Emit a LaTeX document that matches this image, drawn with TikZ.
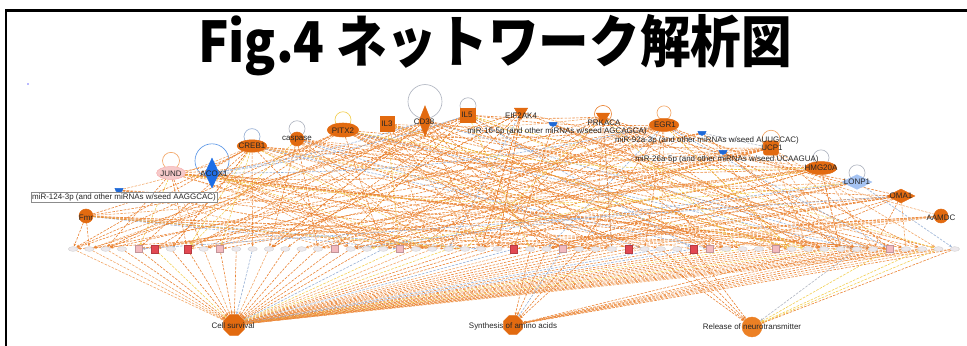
\documentclass[tikz,border=0pt]{standalone}
\usepackage{fontspec}
\setmainfont{Liberation Sans}
\newfontfamily\cjk{Noto Sans CJK JP}
\usetikzlibrary{shapes.geometric,arrows.meta}
\pgfdeclarelayer{bg}
\pgfsetlayers{bg,main}
\definecolor{nodeor}{RGB}{226,106,16}
\definecolor{relor}{RGB}{236,128,36}
\definecolor{eor}{RGB}{234,130,50}
\definecolor{eor2}{RGB}{242,165,100}
\definecolor{eblue}{RGB}{150,175,212}
\definecolor{eyel}{RGB}{242,206,80}
\definecolor{mirblue}{RGB}{30,105,215}
\definecolor{acoxblue}{RGB}{30,110,230}
\definecolor{loopblue}{RGB}{90,150,230}
\definecolor{loopgray}{RGB}{175,180,192}
\definecolor{lonpblue}{RGB}{165,195,242}
\definecolor{jundpink}{RGB}{246,202,202}
\definecolor{rowgray}{RGB}{236,232,236}
\definecolor{rowpink}{RGB}{242,185,190}
\definecolor{rowred}{RGB}{226,72,82}
\newcommand\selfloop[4]{\draw[#4,line width=0.55pt] ([yshift=#3*0.85pt]#1.north) circle[radius=#2];}
\begin{document}
\begin{tikzpicture}[x=0.03cm,y=-0.03cm,
  lbl/.style={font=\fontsize{6.8}{7}\selectfont, text=black!85, inner sep=0.5pt},
  ov/.style 2 args={ellipse, minimum width=#1, minimum height=#2, inner sep=0pt},
  dm/.style 2 args={diamond, minimum width=#1, minimum height=#2, inner sep=0pt},
  sq/.style 2 args={rectangle, minimum width=#1, minimum height=#2, inner sep=0pt},
  tri/.style={regular polygon, regular polygon sides=3, shape border rotate=180, minimum size=#1, inner sep=0pt},
  oct/.style={regular polygon, regular polygon sides=8, minimum size=#1, inner sep=0pt},
  disc/.style={circle, minimum size=#1, inner sep=0pt},
  orn/.style={fill=nodeor, draw=nodeor},
  mirn/.style={semicircle, shape border rotate=180, fill=mirblue, draw=mirblue, minimum width=7pt, minimum height=3.5pt, inner sep=0pt},
  rownode/.style={ellipse, minimum width=8pt, minimum height=4pt, inner sep=0pt, fill=rowgray, draw=black!20, line width=0.3pt},
  rowpinkn/.style={rectangle, minimum width=6pt, minimum height=6pt, inner sep=0pt, fill=rowpink, draw=rowpink!80!black, line width=0.3pt},
  rowredn/.style={rectangle, minimum width=6pt, minimum height=7pt, inner sep=0pt, fill=rowred, draw=rowred!80!black, line width=0.3pt},
  lnk/.style={dash pattern=on 2.2pt off 1.1pt, line width=0.5pt, -{Stealth[length=2.6pt,width=2pt]}},
  lnk2/.style={dash pattern=on 2.2pt off 1.1pt, line width=0.5pt},
]
\useasboundingbox (0,0) rectangle (967,346);
% frame
\draw[line width=2pt] (6,346) -- (6,10.5) -- (967,10.5);
% title
\node[font=\cjk\bfseries\fontsize{48}{48}\selectfont, inner sep=0pt, xscale=0.9] (title) at (495,45) {Fig.4 ネットワーク解析図};
\node[disc=1.6pt, fill=blue!55] (speck) at (28,84) {};

% ---- top nodes ----
\node[ov={24.6pt}{11pt}, fill=jundpink, draw=jundpink!85!red] (jund) at (171,173) {};
\node[dm={12pt}{25.5pt}, fill=acoxblue, draw=acoxblue] (acox) at (212,173) {};
\node[ov={25.5pt}{10.5pt}, orn] (creb) at (252,146) {};
\node[disc=12pt, orn] (casp) at (297,139) {};
\node[ov={27pt}{12pt}, orn] (pitx) at (343,130) {};
\node[sq={12pt}{12.7pt}, orn] (il3) at (387,124) {};
\node[dm={10.5pt}{26pt}, orn] (cd38) at (425,121) {};
\node[sq={12.7pt}{12pt}, orn] (il5) at (468,115) {};
\node[tri=13pt, orn] (eif) at (521,112) {};
\node[mirn] (mir16) at (553,124) {};
\node[tri=13pt, orn] (prk) at (603,117) {};
\node[ov={25.5pt}{11pt}, orn] (egr) at (664,125) {};
\node[mirn] (mir92) at (702,133) {};
\node[sq={13pt}{12pt}, rounded corners=2pt, orn] (ucp) at (771,148) {};
\node[mirn] (mir26) at (723,152) {};
\node[ov={27pt}{11pt}, orn] (hmg) at (821,168) {};
\node[dm={25.5pt}{12.7pt}, fill=lonpblue, draw=lonpblue] (lonp) at (857,182) {};
\node[dm={24pt}{12pt}, orn] (oma) at (901,196) {};
\node[disc=12pt, orn] (aamdc) at (941,216) {};
\node[disc=12pt, orn] (fmr) at (86,216) {};
\node[mirn] (mir124) at (119,190) {};

% ---- bottom hubs ----
\node[oct=19pt, orn] (cs) at (234,325) {};
\node[oct=17.5pt, orn] (syn) at (513,325) {};
\node[disc=17pt, fill=relor, draw=relor] (rel) at (752,327) {};

% ---- row of molecules ----
\foreach \k in {0,...,54}{
  \pgfmathtruncatemacro\isred{(\k==5)+(\k==7)+(\k==27)+(\k==34)+(\k==38)}
  \pgfmathtruncatemacro\ispink{(\k==4)+(\k==9)+(\k==16)+(\k==20)+(\k==30)+(\k==39)+(\k==43)+(\k==50)}
  \ifnum\isred>0
    \node[rowredn] (r\k) at ({73+\k*16.33},249) {};
  \else\ifnum\ispink>0
    \node[rowpinkn] (r\k) at ({73+\k*16.33},249) {};
  \else
    \node[rownode] (r\k) at ({73+\k*16.33},249) {};
  \fi\fi
}

% ---- labels ----
\node[lbl] (jundL) at (171,174) {JUND};
\node[lbl] (acoxL) at (214,174) {ACOX1};
\node[lbl] (crebL) at (252,146) {CREB1};
\node[lbl] (caspL) at (297,139) {caspase};
\node[lbl] (pitxL) at (343,131) {PITX2};
\node[lbl] (il3L) at (387,124) {IL3};
\node[lbl] (cd38L) at (424,122) {CD38};
\node[lbl] (il5L) at (467,115) {IL5};
\node[lbl] (eifL) at (521,116) {EIF2AK4};
\node[lbl] (mir16L) at (557,131.5) {miR-16-5p (and other miRNAs w/seed AGCAGCA)};
\node[lbl] (prkL) at (604,122.5) {PRKACA};
\node[lbl] (egrL) at (665,125) {EGR1};
\node[lbl] (mir92L) at (707,140) {miR-92a-3p (and other miRNAs w/seed AUUGCAC)};
\node[lbl] (ucpL) at (772,148) {UCP1};
\node[lbl] (mir26L) at (727,159) {miR-26a-5p (and other miRNAs w/seed UCAAGUA)};
\node[lbl] (hmgL) at (821,168) {HMG20A};
\node[lbl] (lonpL) at (857,182) {LONP1};
\node[lbl] (omaL) at (901,196) {OMA1};
\node[lbl] (aamdcL) at (941,218) {AAMDC};
\node[lbl] (fmrL) at (86,218) {Fmr};
\node[lbl, draw=black!45, fill=white, inner sep=1pt] (mir124L) at (124,197) {miR-124-3p (and other miRNAs w/seed AAGGCAC)};
\node[lbl] (csL) at (233,326) {Cell survival};
\node[lbl] (synL) at (513,326) {Synthesis of amino acids};
\node[lbl] (relL) at (752,327) {Release of neurotransmitter};

% ---- edges (background) ----
\begin{pgfonlayer}{bg}
  % self loops
  \selfloop{jund}{8.5}{5.5}{eor2}
  \selfloop{acox}{17}{-3}{loopblue}
  \selfloop{creb}{8}{3}{eblue}
  \selfloop{casp}{8}{3}{loopgray}
  \selfloop{pitx}{8}{3}{eyel}
  \selfloop{cd38}{17}{4}{loopgray}
  \selfloop{il5}{8}{2}{loopgray}
  \selfloop{prk}{8.5}{-1}{eor}
  \selfloop{egr}{7}{5.5}{eor2}
  \selfloop{ucp}{9}{1.5}{eor2}
  \selfloop{hmg}{8}{3.5}{loopgray}
  \selfloop{lonp}{8}{1.5}{loopgray}
  % upstream regulators -> molecules
  \pgfmathsetseed{4242}
  \foreach \t/\nn in {fmr/8,jund/10,acox/8,creb/16,casp/10,pitx/14,il3/10,cd38/12,il5/14,eif/10,mir16/5,prk/12,egr/16,mir92/5,ucp/10,mir26/5,hmg/12,lonp/6,oma/10,aamdc/6,mir124/5}{
    \foreach \j in {1,...,\nn}{
      \pgfmathrandominteger{\rk}{0}{54}
      \pgfmathrandominteger{\rc}{1}{14}
      \ifnum\rc=1 \def\ec{eblue}\else\ifnum\rc=2 \def\ec{eyel}\else\ifnum\rc<6 \def\ec{eor2}\else\def\ec{eor}\fi\fi\fi
      \draw[lnk, draw=\ec] (\t) -- (r\rk);
    }
  }
  \draw[lnk, draw=eor] (fmr) -- (r0);
  \draw[lnk, draw=eor] (fmr) -- (r1);
  % links among regulators
  \foreach \a/\b/\bd/\ec in {jund/creb/10/eor, jund/pitx/12/eor, jund/hmg/8/eor, jund/egr/10/eor,
      creb/egr/8/eor, creb/ucp/6/eor, creb/lonp/6/eor2, casp/hmg/6/eor, casp/ucp/5/eor2,
      pitx/egr/6/eor, pitx/oma/5/eor, il3/prk/5/eor2, il3/hmg/5/eor, cd38/ucp/5/eor,
      il5/egr/4/eor, il5/prk/3/eor, eif/hmg/4/eor2, prk/lonp/4/eor, egr/oma/4/eor,
      egr/aamdc/3/eor2, fmr/creb/6/eor, fmr/il5/6/eor, fmr/egr/5/eor2, mir124/creb/5/eor2,
      acox/cd38/4/eblue, acox/il5/5/eblue, acox/egr/6/eblue, jund/lonp/7/eyel, pitx/hmg/6/eyel}{
    \draw[lnk2, draw=\ec] (\a) to[bend right=\bd] (\b);
  }
  \draw[lnk2, draw=loopgray] (mir92) -- (ucp);
  % molecules -> functions
  \foreach \k in {0,...,54}{
    \pgfmathrandominteger{\rc}{1}{16}
    \ifnum\rc=1 \def\ec{eblue}\else\ifnum\rc=2 \def\ec{eyel}\else\ifnum\rc<6 \def\ec{eor2}\else\def\ec{eor}\fi\fi\fi
    \draw[lnk, draw=\ec] (r\k) -- (cs);
  }
  \foreach \k/\ec in {28/eor,29/eor,30/eblue,31/eor,32/eor,46/eor,48/eor,49/eor2,50/eor,51/eor,52/eor,53/eor2,54/eor}{
    \draw[lnk, draw=\ec] (r\k) -- (syn);
  }
  \foreach \k/\ec in {35/eor,36/eor,37/eor,38/eor,48/loopgray,50/eyel,52/eyel,53/eyel,54/eor}{
    \draw[lnk, draw=\ec] (r\k) -- (rel);
  }
\end{pgfonlayer}
\end{tikzpicture}
\end{document}
